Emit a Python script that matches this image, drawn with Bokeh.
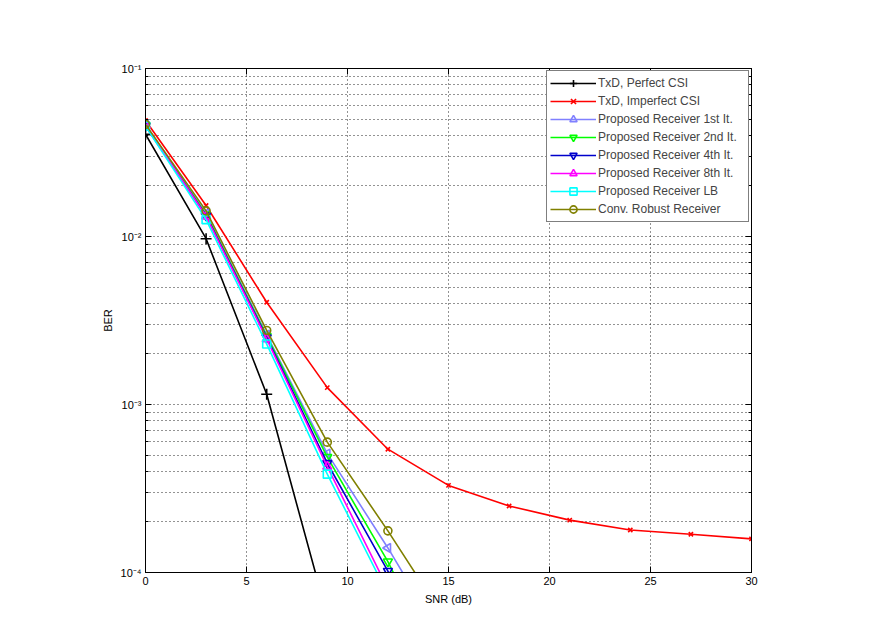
from bokeh.plotting import figure
from bokeh.models import LogAxis, LinearAxis, FixedTicker, CustomJSTickFormatter
from bokeh.embed import file_html
from bokeh.resources import INLINE
import math

# ---- data ----
snr_perfect = [0, 3, 6, 9]
ber_perfect = [0.0406, 0.0097, 0.00115, 5.5e-5]

snr_imperfect = [0, 3, 6, 9, 12, 15, 18, 21, 24, 27, 30]
ber_imperfect = [0.049, 0.0153, 0.00406, 0.00126, 0.000542, 0.00033,
                 0.000249, 0.000205, 0.000179, 0.000169, 0.0001585]

snr_prop = [0, 3, 6, 9, 12, 15]
ber_it1 = [0.0465, 0.0137, 0.0026, 0.00051, 0.00014, 3.5e-5]
ber_it2 = [0.046, 0.0135, 0.00255, 0.000486, 0.000116, 2.2e-5]
ber_it4 = [0.0455, 0.0133, 0.0025, 0.000447, 0.000102, 2.0e-5]
ber_it8 = [0.046, 0.0132, 0.00245, 0.000427, 8.0e-5, 1.5e-5]
ber_lb = [0.0455, 0.0126, 0.00229, 0.000385, 7.4e-5, 1.4e-5]
ber_conv = [0.0465, 0.0142, 0.00276, 0.000597, 0.000177, 4.9e-5]

x_ticks = [0, 5, 10, 15, 20, 25, 30]
y_major = [1e-4, 1e-3, 1e-2, 1e-1]
y_minor = [k * 10.0 ** e for e in (-4, -3, -2) for k in range(2, 10)]

FONT = "Liberation Sans"

p = figure(frame_width=606, frame_height=504,
           min_border_left=145, min_border_right=107,
           min_border_top=68, min_border_bottom=56,
           x_range=(0, 30), y_range=(1e-4, 1e-1), y_axis_type="log",
           output_backend="svg", toolbar_location=None,
           background_fill_color="white", border_fill_color="white")

p.outline_line_color = "black"
p.outline_line_width = 1

yfmt = CustomJSTickFormatter(code="""
const e = Math.round(Math.log10(tick));
const sup = {'-':'\u207b','0':'\u2070','1':'\u00b9','2':'\u00b2','3':'\u00b3','4':'\u2074','5':'\u2075','6':'\u2076','7':'\u2077','8':'\u2078','9':'\u2079'};
return '10' + String(e).split('').map(c => sup[c]).join('');
""")
blank = CustomJSTickFormatter(code="return '';")

bottom = p.xaxis[0]
left = p.yaxis[0]
bottom.ticker = FixedTicker(ticks=x_ticks)
bottom.axis_label = "SNR (dB)"
left.ticker = FixedTicker(ticks=y_major, minor_ticks=y_minor)
left.formatter = yfmt
left.axis_label = "BER"

top = LinearAxis(ticker=FixedTicker(ticks=x_ticks), formatter=blank)
right = LogAxis(ticker=FixedTicker(ticks=y_major, minor_ticks=y_minor), formatter=blank)
p.add_layout(top, "above")
p.add_layout(right, "right")

for ax in [bottom, left, top, right]:
    ax.axis_line_color = "black"
    ax.major_tick_in = 6
    ax.major_tick_out = 0
    ax.minor_tick_in = 3
    ax.minor_tick_out = 0
    ax.major_tick_line_color = "black"
    ax.minor_tick_line_color = "black"
    ax.major_label_text_font = FONT
    ax.major_label_text_font_size = "11px"
    ax.major_label_text_color = "black"
    ax.axis_label_text_font = FONT
    ax.axis_label_text_font_size = "11px"
    ax.axis_label_text_font_style = "normal"
    ax.axis_label_text_color = "black"
    ax.major_label_standoff = 4
for ax in [bottom, top]:
    ax.minor_tick_line_color = None
bottom.axis_label_standoff = 5
left.axis_label_standoff = 4

p.xgrid.ticker = FixedTicker(ticks=x_ticks)
p.xgrid.grid_line_color = "black"
p.xgrid.grid_line_dash = "1 3"
p.xgrid.grid_line_alpha = 0.85
p.ygrid.grid_line_color = "black"
p.ygrid.grid_line_dash = "1 3"
p.ygrid.grid_line_alpha = 0.85
p.ygrid.minor_grid_line_color = "black"
p.ygrid.minor_grid_line_dash = "1 3"
p.ygrid.minor_grid_line_alpha = 0.85

series = [
    ("TxD, Perfect CSI", snr_perfect, ber_perfect, "#000000", "cross", 0, 11),
    ("TxD, Imperfect CSI", snr_imperfect, ber_imperfect, "#ff0000", "x", 0, 6),
    ("Proposed Receiver 1st It.", snr_prop, ber_it1, "#8080ff", "triangle", math.pi / 2, 9),
    ("Proposed Receiver 2nd It.", snr_prop, ber_it2, "#00ff00", "inverted_triangle", 0, 9),
    ("Proposed Receiver 4th It.", snr_prop, ber_it4, "#0000cc", "inverted_triangle", 0, 9),
    ("Proposed Receiver 8th It.", snr_prop, ber_it8, "#ff00ff", "triangle", 0, 9),
    ("Proposed Receiver LB", snr_prop, ber_lb, "#00ffff", "square", 0, 8),
    ("Conv. Robust Receiver", snr_prop, ber_conv, "#808000", "circle", 0, 8),
]

for label, xs, ys, color, marker, ang, size in series:
    p.line(xs, ys, line_color=color, line_width=1.6, legend_label=label)
    p.scatter(xs, ys, marker=marker, angle=ang, size=size, line_color=color,
              fill_color=None, line_width=1.6, legend_label=label)

lg = p.legend[0]
lg.location = "top_right"
lg.margin = 2
lg.padding = 3
lg.spacing = 0
lg.label_height = 18
lg.glyph_height = 18
lg.glyph_width = 46
lg.label_width = 147
lg.label_standoff = 2
lg.label_text_font = FONT
lg.label_text_font_size = "12px"
lg.border_line_color = "black"
lg.border_line_width = 1
lg.background_fill_color = "white"
lg.background_fill_alpha = 1.0

open("out.html", "w").write(file_html(p, INLINE))
